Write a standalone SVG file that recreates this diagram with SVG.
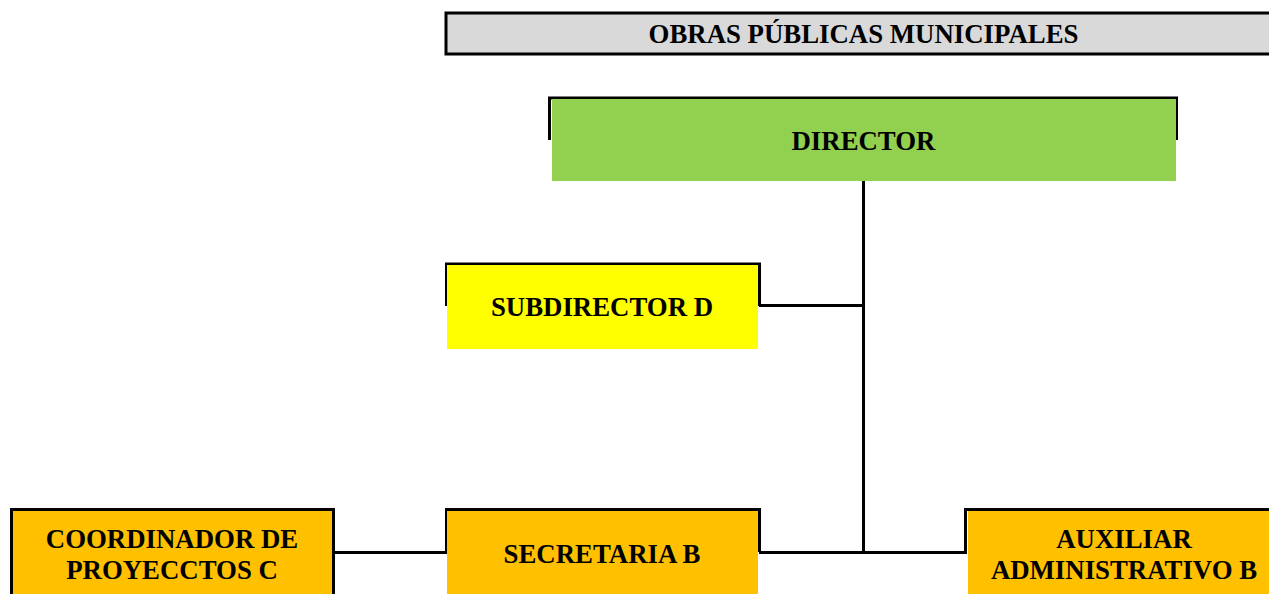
<svg xmlns="http://www.w3.org/2000/svg" width="1269" height="594" viewBox="0 0 1269 594">
<style>
.t{font-family:"Liberation Serif","Times New Roman",serif;font-weight:bold;font-size:26.8px;fill:#000;text-anchor:middle}
.b{fill:none;stroke:#000;stroke-width:3}
.c{fill:none;stroke:#000;stroke-width:3}
</style>
<rect width="1269" height="594" fill="#fff"/>
<g id="title">
<rect x="446" y="13" width="830" height="41" fill="#d9d9d9" stroke="#000" stroke-width="3"/>
<text class="t" x="863.5" y="43">OBRAS PÚBLICAS MUNICIPALES</text>
</g>
<g id="connectors">
<path class="c" d="M863.5 181V552.5M759 305.5H863.5M759 552.5H967M333 552.5H447"/>
</g>
<g id="director">
<path class="b" d="M549.5 140V98H1176.5V140"/>
<rect x="552" y="99" width="624" height="82" fill="#92d050"/>
<text class="t" x="863.5" y="150">DIRECTOR</text>
</g>
<g id="subdirector">
<path class="b" d="M446.5 306V264H759.5V306"/>
<rect x="447" y="265" width="311" height="84" fill="#ffff00"/>
<text class="t" x="602" y="316">SUBDIRECTOR D</text>
</g>
<g id="coordinador">
<path class="b" d="M11.5 594V509.5H333.5V594"/>
<rect x="13" y="511" width="319" height="83" fill="#ffc000"/>
<text class="t" x="172" y="548">COORDINADOR DE</text>
<text class="t" x="172" y="579">PROYECCTOS C</text>
</g>
<g id="secretaria">
<path class="b" d="M446.5 552V509.5H759.5V552"/>
<rect x="447" y="511" width="311" height="83" fill="#ffc000"/>
<text class="t" x="602" y="563">SECRETARIA B</text>
</g>
<g id="auxiliar">
<path class="b" d="M965.5 552V509.5H1272"/>
<rect x="968" y="511" width="301" height="83" fill="#ffc000"/>
<text class="t" x="1124" y="548">AUXILIAR</text>
<text class="t" x="1124" y="579">ADMINISTRATIVO B</text>
</g>
</svg>
